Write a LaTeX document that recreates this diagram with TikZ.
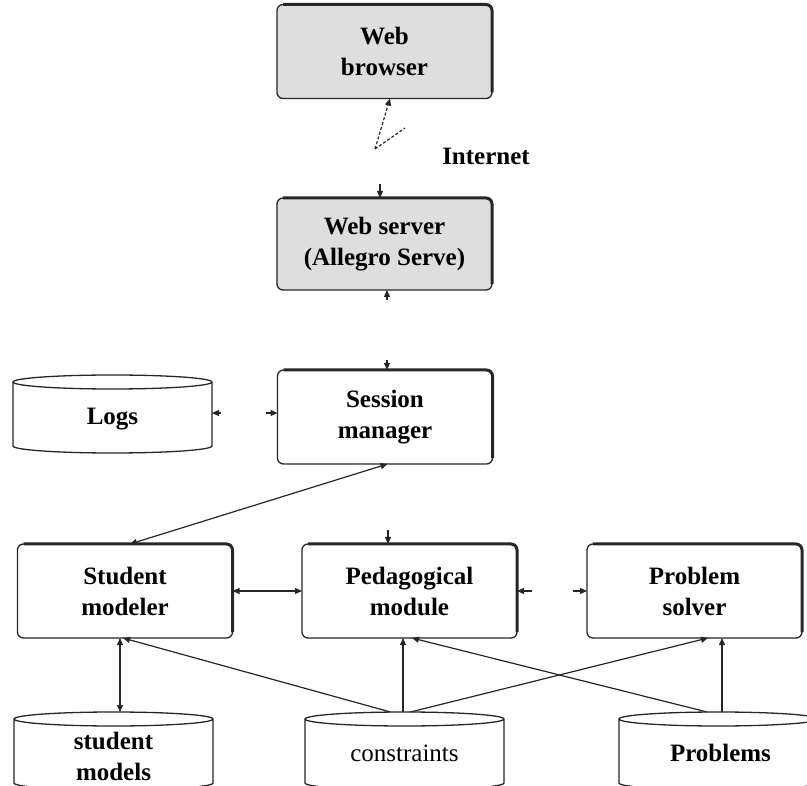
\documentclass[tikz,border=0pt]{standalone}
\usepackage{fontspec}
\setmainfont{Liberation Serif}
\usetikzlibrary{arrows.meta,calc}

\newcommand{\shadeedge}[1]{\draw[topedge, rounded corners=6pt] ([xshift=6pt]#1.north west) -- (#1.north east) -- ([yshift=6pt]#1.south east);}
\newcommand{\dbcyl}[1]{\draw[dbline] ([yshift=-7pt]#1.north west) -- ([yshift=7pt]#1.south west) arc[start angle=180,end angle=360,x radius=99.5pt,y radius=7pt] -- ([yshift=-7pt]#1.north east) arc[start angle=0,end angle=180,x radius=99.5pt,y radius=7pt] arc[start angle=180,end angle=360,x radius=99.5pt,y radius=7pt];}

\begin{document}
\begin{tikzpicture}[x=1pt,y=-1pt,
 lbl/.style={font=\fontsize{25}{31}\selectfont\bfseries, align=center},
 lblreg/.style={font=\fontsize{25}{31}\selectfont, align=center},
 mybox/.style={lbl, draw=black!85, fill=white, line width=1.3pt, rounded corners=6pt, minimum width=215pt, minimum height=94pt, inner sep=0pt, outer sep=0pt},
 webbox/.style={mybox, fill=black!13},
 topedge/.style={draw=black!85, line width=3pt},
 dbnode/.style={inner sep=0pt, outer sep=0pt, minimum width=199pt, minimum height=78pt},
 dbline/.style={draw=black!85, line width=1.3pt},
 conn/.style={draw=black!85, line width=1.2pt},
 onetip/.style={-{Triangle[length=7pt,width=6pt]}},
 twotip/.style={{Triangle[length=7pt,width=6pt]}-{Triangle[length=7pt,width=6pt]}},
 net/.style={conn, dash pattern=on 3pt off 2pt},
]
\useasboundingbox (0,0) rectangle (807,786);

% boxes
\node[webbox] (browser) at (384.5,51.5) {Web\\browser};
\node[webbox, minimum height=92pt] (server) at (384.5,244) {Web server\\(Allegro Serve)};
\node[mybox] (session) at (385,417) {Session\\manager};
\node[mybox] (student) at (125,591) {Student\\modeler};
\node[mybox] (peda) at (409.5,591) {Pedagogical\\module};
\node[mybox] (solver) at (694.5,591) {Problem\\solver};
\foreach \n in {browser,server,session,student,peda,solver} {\shadeedge{\n}}

% databases
\node[dbnode, label={[lbl, yshift=-5pt]center:Logs}] (logs) at (112.5,414) {};
\node[dbnode, label={[lbl, yshift=-5pt]center:student\\models}] (smodels) at (113.5,751) {};
\node[dbnode, label={[lblreg, yshift=-2pt]center:constraints}] (cons) at (404.5,751) {};
\node[dbnode, label={[lbl, yshift=-2pt, xshift=2pt]center:Problems}] (probs) at (718.5,751) {};
\foreach \n in {logs,smodels,cons,probs} {\dbcyl{\n}}

% internet
\node[lbl] (internet) at (486,156) {Internet};
\coordinate (inet) at (375,149);
\coordinate (inet2) at (405,128);
\draw[net,onetip] (inet) -- ([xshift=5.5pt]browser.south);
\draw[net] (inet) -- (inet2);
\coordinate (inet3) at (380,184);
\draw[conn,onetip] (inet3) -- (inet3 |- server.north);

% server - session
\coordinate (s1) at (387,300);
\draw[conn,onetip] (s1) -- (s1 |- server.south);
\coordinate (s2) at (387,360);
\draw[conn,onetip] (s2) -- (s2 |- session.north);

% logs - session
\coordinate (l1) at (221,413);
\draw[conn,onetip] (l1) -- (l1 -| logs.east);
\coordinate (l2) at (266,413);
\draw[conn,onetip] (l2) -- (l2 -| session.west);

% session - student modeler
\draw[conn,twotip] ([xshift=2.5pt]session.south) -- ([xshift=5pt]student.north);
\coordinate (p1) at (388,530);
\draw[conn,onetip] (p1) -- (p1 |- peda.north);

% middle row
\draw[conn,twotip] (student.east) -- (peda.west);
\coordinate (q1) at (532,591);
\draw[conn,onetip] (q1) -- (q1 -| peda.east);
\coordinate (q2) at (573,591);
\draw[conn,onetip] (q2) -- (q2 -| solver.west);

% bottom connections
\draw[conn,twotip] ([xshift=-5pt]student.south) -- ([xshift=-5pt]student.south |- smodels.north);
\draw[conn,onetip] ([xshift=-14pt]cons.north) -- ([xshift=-2pt]student.south);
\draw[conn,onetip] ([xshift=-1.5pt]cons.north) -- ([xshift=-1.5pt]cons.north |- peda.south);
\draw[conn,onetip] ([xshift=6pt]cons.north) -- ([xshift=13.5pt]solver.south);
\draw[conn,onetip] ([xshift=-11.5pt]probs.north) -- ([xshift=2.5pt]peda.south);
\draw[conn,onetip] ([xshift=3.5pt]probs.north) -- ([xshift=3.5pt]probs.north |- solver.south);
\end{tikzpicture}
\end{document}
